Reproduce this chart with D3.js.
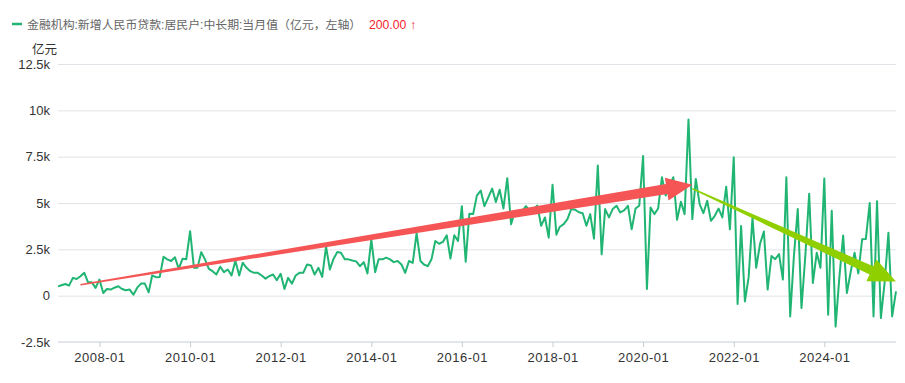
<!DOCTYPE html>
<html>
<head>
<meta charset="utf-8">
<script src="https://cdn.jsdelivr.net/npm/d3@7"></script>
<style>
  body { margin: 0; background: #fff; }
  svg text { font-family: "Liberation Sans", "Noto Sans CJK SC", sans-serif; }
</style>
</head>
<body>
<div id="chart"></div>
<script>
const width = 905, height = 383;
const margin = { top: 64, right: 9, bottom: 41, left: 58 };

const seriesName = "金融机构:新增人民币贷款:居民户:中长期:当月值（亿元，左轴）";
const latestLabel = "200.00";
const yUnit = "亿元";

// monthly values, 2007-02 .. 2025-08 (亿元)
const firstMonth = "2007-02", lastMonth = "2025-08";
const values = [
  500, 560, 630, 540, 960, 900, 1050, 1230, 720, 720, 420, 870,
  145, 360, 330, 430, 510, 360, 290, 330, 55, 430, 650, 650,
  180, 1090, 1000, 1010, 2100, 1960, 1870, 2070, 1450, 1990, 1960, 3480,
  1500, 1500, 2350, 1960, 1450, 1320, 1140, 1560, 1270, 1410, 1090, 1880,
  1090, 1780, 1500, 1320, 1230, 1230, 1090, 920, 1050, 1140, 830, 1180,
  360, 960, 650, 1090, 1230, 1230, 1680, 1630, 1140, 1500, 1010, 2650,
  1410, 1960, 2350, 2320, 1960, 1960, 1900, 1850, 1590, 1810, 1200, 3040,
  1270, 1960, 1960, 2050, 1960, 1810, 1870, 1680, 1230, 1870, 1770, 3370,
  1870, 1680, 1590, 1960, 2950, 2800, 2900, 3260, 2000, 3260, 2950, 4830,
  1830, 4420, 4400, 5400, 5670, 4830, 5300, 5780, 5050, 5720, 4700, 6340,
  3850, 4500, 4500, 4580, 4830, 4580, 4680, 4860, 3770, 4220, 3130, 5980,
  3290, 3720, 3860, 4130, 4680, 4640, 4500, 4450, 3770, 4400, 3080, 7020,
  2230, 4670, 4220, 4670, 4850, 4490, 4600, 4850, 3580, 4700, 4850, 7530,
  360, 4760, 4400, 4700, 6390, 5400, 5900, 6390, 4090, 5070, 4400, 9500,
  4130, 6300, 4940, 4450, 5120, 4040, 4310, 4700, 4220, 5880, 3580, 7470,
  -450, 3760, -310, 1000, 4220, 1500, 2800, 3460, 330, 2140, 1970, 2240,
  870, 6390, -1120, 2140, 4670, -670, 2140, 5500, 690, 2320, 1500, 6320,
  -1030, 4580, -1670, 960, 3240, 145, 1300, 2320, 1200, 3040, 3060, 5000,
  -1120, 5100, -1210, 690, 3400, -1120, 230
];

const xTickLabels = ["2008-01", "2010-01", "2012-01", "2014-01", "2016-01", "2018-01", "2020-01", "2022-01", "2024-01"];
const yTickValues = [-2500, 0, 2500, 5000, 7500, 10000, 12500];
const yTickLabels = ["-2.5k", "0", "2.5k", "5k", "7.5k", "10k", "12.5k"];

// trend arrows drawn over the series: [month, value] start and end
const upArrow = { from: ["2007-08", 590], to: ["2021-02", 5980], color: "#f65555" };
const downArrow = { from: ["2021-02", 5770], to: ["2025-08", 760], color: "#8fcf00" };

const parseMonth = d3.timeParse("%Y-%m");
const months = d3.timeMonth.range(parseMonth(firstMonth), d3.timeMonth.offset(parseMonth(lastMonth), 1));
const data = months.map((d, i) => ({ date: d, value: values[i] }));

const svg = d3.select("#chart").append("svg")
    .attr("width", width)
    .attr("height", height);

const x = d3.scaleTime()
    .domain(d3.extent(months))
    .range([margin.left, width - margin.right]);

const y = d3.scaleLinear()
    .domain([-2500, 12500])
    .range([height - margin.bottom, margin.top]);

// legend
const legend = svg.append("g").attr("transform", "translate(12,24)");
legend.append("line")
    .attr("x1", 0).attr("x2", 10)
    .attr("stroke", "#21b573").attr("stroke-width", 2.5);
legend.append("text")
    .attr("x", 15).attr("y", 4.5)
    .attr("font-size", 11.9).attr("fill", "#666")
    .text(seriesName);
legend.append("text")
    .attr("x", 357).attr("y", 4.5)
    .attr("font-size", 12.2).attr("fill", "#f5222d")
    .text(latestLabel);
legend.append("text")
    .attr("x", 398).attr("y", 5)
    .attr("font-size", 13).attr("font-family", "DejaVu Sans").attr("fill", "#f5222d")
    .text("↑");

// grid + y labels
const yAxis = d3.axisLeft(y)
    .tickValues(yTickValues)
    .tickSize(0)
    .tickPadding(8)
    .tickFormat((d, i) => yTickLabels[i]);

svg.append("g")
    .attr("transform", `translate(${margin.left},0)`)
    .call(yAxis)
    .call(g => g.select(".domain").remove())
    .call(g => g.selectAll("text").attr("font-size", 13).attr("fill", "#333").attr("font-family", null))
    .call(g => g.selectAll(".tick").filter(d => d !== -2500).append("line")
        .attr("x2", width - margin.right - margin.left)
        .attr("stroke", "#e1e3e8"));

svg.append("text")
    .attr("x", 57).attr("y", 54)
    .attr("text-anchor", "end")
    .attr("font-size", 12.5).attr("fill", "#333")
    .text(yUnit);

// x axis
const xAxis = d3.axisBottom(x)
    .tickValues(xTickLabels.map(parseMonth))
    .tickSize(5)
    .tickPadding(6)
    .tickFormat(d3.timeFormat("%Y-%m"));

svg.append("g")
    .attr("transform", `translate(0,${y(-2500)})`)
    .call(xAxis)
    .call(g => g.select(".domain").attr("stroke", "#c5cdd8").attr("d", `M${margin.left},0H${width - margin.right}`))
    .call(g => g.selectAll(".tick line").attr("stroke", "#c5cdd8"))
    .call(g => g.selectAll("text").attr("font-size", 13).attr("fill", "#333")
        .attr("letter-spacing", "0.5px").attr("font-family", null));

// series
const line = d3.line()
    .x(d => x(d.date))
    .y(d => y(d.value));

svg.append("path")
    .datum(data)
    .attr("fill", "none")
    .attr("stroke", "#21b573")
    .attr("stroke-width", 2)
    .attr("stroke-linejoin", "round")
    .attr("d", line);

// tapered arrow: thin at start, wide near the head
function drawArrow(a, w0, w1, headLen, headHalf) {
  const p0 = [x(parseMonth(a.from[0])), y(a.from[1])];
  const p1 = [x(parseMonth(a.to[0])), y(a.to[1])];
  const dx = p1[0] - p0[0], dy = p1[1] - p0[1];
  const len = Math.hypot(dx, dy);
  const ux = dx / len, uy = dy / len;
  const nx = -uy, ny = ux;
  const bx = p1[0] - ux * headLen, by = p1[1] - uy * headLen;
  const pts = [
    [p0[0] + nx * w0, p0[1] + ny * w0],
    [bx + nx * w1, by + ny * w1],
    [bx + nx * headHalf, by + ny * headHalf],
    p1,
    [bx - nx * headHalf, by - ny * headHalf],
    [bx - nx * w1, by - ny * w1],
    [p0[0] - nx * w0, p0[1] - ny * w0]
  ];
  svg.append("path")
    .attr("d", "M" + pts.map(p => p.join(",")).join("L") + "Z")
    .attr("fill", a.color);
}

drawArrow(upArrow, 0.7, 5, 26, 11.5);
drawArrow(downArrow, 0.7, 4.5, 27, 12);
</script>
</body>
</html>
